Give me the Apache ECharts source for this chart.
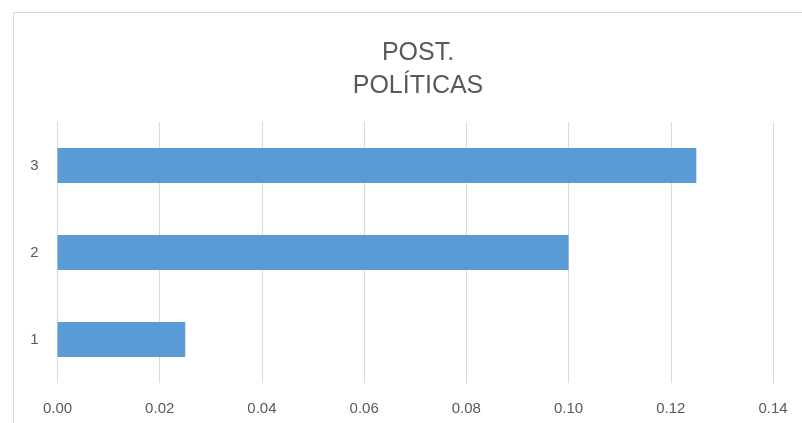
<!DOCTYPE html>
<html>
<head>
<meta charset="utf-8">
<script src="https://cdn.jsdelivr.net/npm/echarts@6/dist/echarts.min.js"></script>
<style>
html,body{margin:0;padding:0;background:#fff;}
#c{width:802px;height:423px;}
</style>
</head>
<body>
<div id="c"></div>
<script>
var titleText = 'POST.\nPOLÍTICAS';
var categories = ['1', '2', '3'];
var values = [0.025, 0.1, 0.125];
var xMin = 0, xMax = 0.14, xStep = 0.02;

var chart = echarts.init(document.getElementById('c'));
chart.setOption({
  animation: false,
  backgroundColor: '#ffffff',
  graphic: [{
    type: 'rect',
    shape: {x: 13.5, y: 12.5, width: 820, height: 430},
    style: {fill: 'none', stroke: '#d9d9d9', lineWidth: 1}
  }],
  title: {
    text: titleText,
    left: 413, top: 32, textAlign: 'center',
    textStyle: {fontFamily: 'Liberation Sans', fontSize: 25, fontWeight: 'normal', color: '#595959', lineHeight: 33}
  },
  grid: {left: 57.5, right: 29, top: 122, bottom: 40, containLabel: false},
  xAxis: {
    type: 'value', min: xMin, max: xMax, interval: xStep,
    axisLine: {show: false}, axisTick: {show: false},
    splitLine: {show: true, lineStyle: {color: '#d9d9d9', width: 1}},
    axisLabel: {
      color: '#595959', fontFamily: 'Liberation Sans', fontSize: 15, margin: 18,
      formatter: function (v) { return v.toFixed(2); }
    }
  },
  yAxis: {
    type: 'category', data: categories,
    axisLine: {show: false}, axisTick: {show: false},
    axisLabel: {color: '#595959', fontFamily: 'Liberation Sans', fontSize: 15, margin: 19}
  },
  series: [{
    type: 'bar', data: values, barCategoryGap: '60%',
    itemStyle: {color: '#5b9bd5'}
  }]
});
</script>
</body>
</html>
